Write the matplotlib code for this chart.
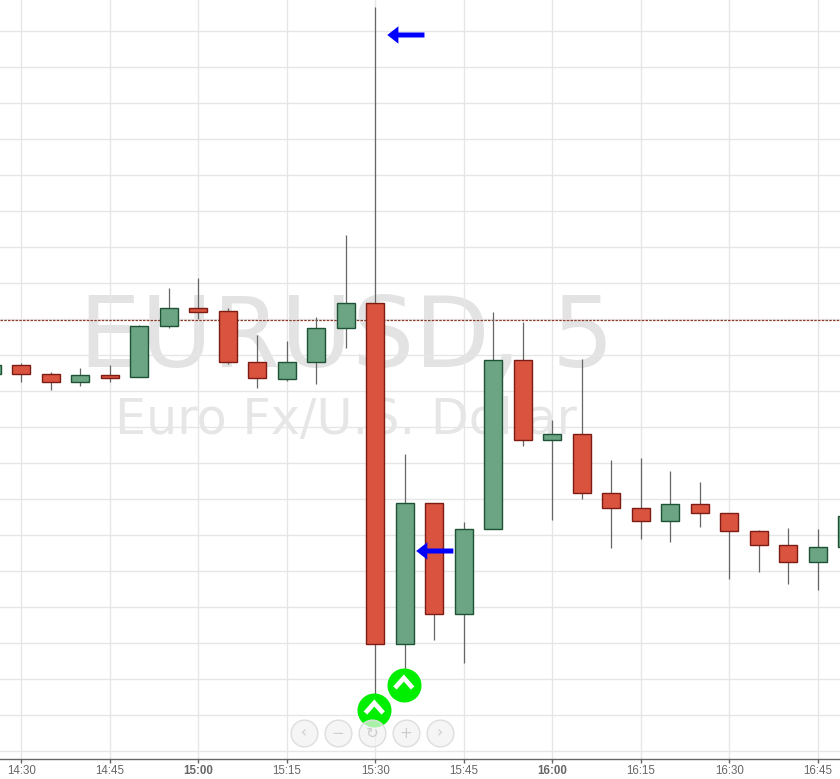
from matplotlib import pyplot as plt
import numpy as np

# candle times in minutes since midnight, prices in chart points
times = [865, 870, 875, 880, 885, 890, 895, 900, 905, 910, 915, 920, 925, 930, 935,
         940, 945, 950, 955, 960, 965, 970, 975, 980, 985, 990, 995, 1000, 1005, 1010]
opens = [626, 635, 626, 618, 625, 623, 674, 692, 689, 638, 621, 638, 672, 697, 356,
         497, 386, 471, 640, 560, 566, 507, 492, 479, 496, 487, 469, 455, 438, 453]
closes = [635, 626, 618, 625, 622, 674, 692, 688, 638, 622, 638, 672, 697, 356, 497,
          386, 471, 640, 560, 566, 507, 492, 479, 496, 487, 469, 455, 438, 453, 484]
highs = [637, 637, 628, 632, 635, 675, 712, 722, 692, 665, 659, 683, 765, 993, 546,
         497, 478, 688, 678, 580, 641, 540, 542, 529, 518, 487, 470, 472, 471, 490]
lows = [625, 618, 610, 614, 618, 623, 672, 681, 636, 612, 619, 616, 652, 300, 320,
        360, 337, 471, 554, 480, 501, 452, 461, 458, 473, 421, 428, 416, 410, 440]

current_price = 680.5
x_ticks = [870, 885, 900, 915, 930, 945, 960, 975, 990, 1005]
x_labels = ['14:30', '14:45', '15:00', '15:15', '15:30', '15:45', '16:00', '16:15', '16:30', '16:45']
y_ticks = np.arange(249, 1000, 36)

# blue arrows: tail time, head time, price
arrow_tails = [938.3, 943.2]
arrow_heads = [932, 936.9]
arrow_prices = [965, 449]
# green buy signals
signal_times = [929.8, 934.8]
signal_prices = [290, 315]
buttons = ['\u2039', '\u2212', '\u21bb', '+', '\u203a']
button_times = [917.9, 923.6, 929.4, 935.2, 940.9]

red = '#d9533f'
red_edge = '#7d1c12'
green = '#6ba583'
green_edge = '#1d5236'

plt.rcParams['font.family'] = ['Liberation Sans', 'DejaVu Sans']
fig = plt.figure(figsize=(8.4, 7.79), dpi=100)
ax = fig.add_axes([0, 20 / 779, 1, 759 / 779])
ax.set_xlim(866.36, 1008.73)
ax.set_ylim(241, 1000)

# watermark
ax.text(0.0945, 0.5165, 'EURUSD, 5', transform=ax.transAxes, fontsize=70.5, color='#e3e3e3',
        family='DejaVu Sans', va='baseline', ha='left', zorder=0.5)
ax.text(0.1365, 0.4285, 'Euro Fx/U.S. Dollar', transform=ax.transAxes, fontsize=35.5, color='#e6e6e6',
        family='DejaVu Sans', va='baseline', ha='left', zorder=0.5)

ax.set_xticks(x_ticks)
ax.set_xticklabels(x_labels, fontsize=8.3, color='#666666')
for lab in ax.get_xticklabels():
    if lab.get_text() in ('15:00', '16:00'):
        lab.set_fontweight('bold')
ax.set_yticks(y_ticks)
ax.set_yticklabels([])
ax.tick_params(axis='y', length=0)
ax.tick_params(axis='x', length=3, width=1, color='#666666', pad=1)
ax.grid(True, color='#e6e6e6', lw=1)
ax.set_axisbelow(True)
for s in ['top', 'left', 'right']:
    ax.spines[s].set_visible(False)
ax.spines['bottom'].set_color('#666666')
ax.spines['bottom'].set_linewidth(1)

ax.axhline(current_price, color='#8c3a2a', lw=0.9, dashes=(2, 1), zorder=2)

# candles
for t, o, c, h, l in zip(times, opens, closes, highs, lows):
    is_down = c < o
    ax.vlines(t, l, h, color='#666666', lw=0.9, zorder=3)
    ax.bar(t, abs(c - o), bottom=min(o, c), width=3.05,
           color=red if is_down else green, edgecolor=red_edge if is_down else green_edge,
           linewidth=1.0, zorder=4)

# arrows
for tail, head, p in zip(arrow_tails, arrow_heads, arrow_prices):
    ax.annotate('', xy=(head, p), xytext=(tail, p), zorder=6,
                arrowprops=dict(facecolor='#0000ff', edgecolor='#0000ff', lw=0,
                                width=3.6, headwidth=12.5, headlength=8, shrink=0))

# signals
ax.scatter(signal_times, signal_prices, s=600, color='#00ee00', zorder=6, linewidths=0)
for t, p in zip(signal_times, signal_prices):
    ax.plot([t - 1.5, t, t + 1.5], [p - 3, p + 7, p - 3], color='white', lw=3.4,
            solid_joinstyle='miter', solid_capstyle='butt', zorder=7)

# zoom buttons
ax.scatter(button_times, [267] * 5, s=370, facecolor=(0.95, 0.95, 0.95, 0.7), edgecolor='#dddddd',
           linewidths=1, zorder=8)
for t, b in zip(button_times, buttons):
    ax.text(t, 267, b, fontsize=11, color='#cccccc', ha='center', va='center',
            family=['DejaVu Sans'], zorder=9)

fig.savefig('out.png', dpi=100)
